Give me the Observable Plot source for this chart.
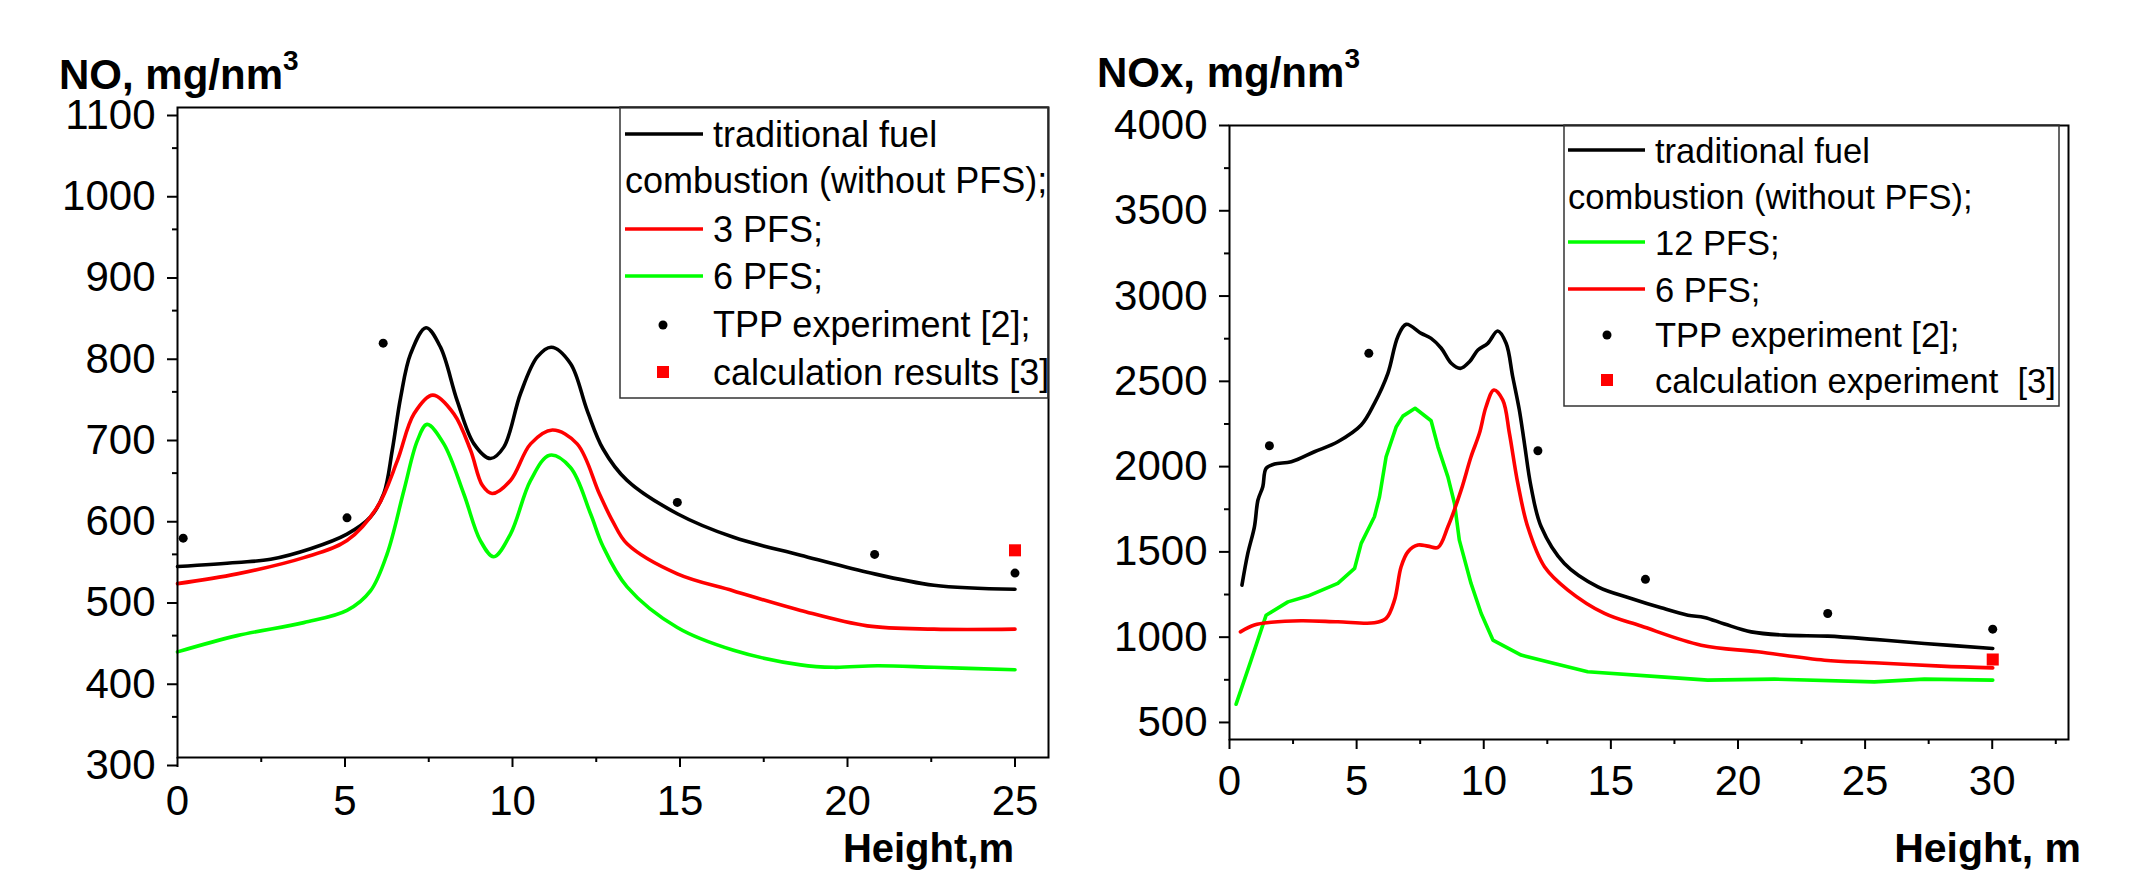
<!DOCTYPE html>
<html><head><meta charset="utf-8">
<script src="https://cdn.jsdelivr.net/npm/d3@7"></script>
<script src="https://cdn.jsdelivr.net/npm/@observablehq/plot@0.6"></script>
<style>
html,body{margin:0;padding:0;background:#fff;}
#wrap{position:relative;width:2132px;height:874px;overflow:hidden;font-family:"Liberation Sans",Arial,sans-serif;}
#wrap > svg{position:absolute;top:0;}
</style></head><body><div id="wrap"></div>
<script>
// ---------- Left chart: NO, mg/nm3 vs Height, m ----------
const noTraditional = [[0,535],[1.78,540],[2.78,544],[3.97,557],[5.06,575],[5.76,596],[6.16,625],[6.41,678],[6.66,743],[6.96,797],[7.42,829],[7.85,805],[8.35,739],[8.85,686],[9.34,668],[9.74,682],[10.24,748],[10.74,793],[11.16,805],[11.73,785],[12.23,727],[12.7,680],[13.42,641],[14.92,600],[16.6,571],[18.6,549],[20.59,528],[22.58,512],[25,507]];
const no3PFS = [[0,514],[1.78,526],[3.77,546],[5.06,567],[5.96,608],[6.56,665],[7.06,723],[7.62,746],[8.25,723],[8.75,678],[9.1,635],[9.39,625],[9.94,641],[10.54,686],[11.19,703],[11.93,686],[12.6,624],[13.0,590],[13.42,563],[14.92,526],[16.6,505],[18.6,481],[20.59,462],[22.58,458],[25,458]];
const no6PFS = [[0,430],[1.78,450],[3.77,466],[5.06,481],[5.76,505],[6.26,551],[6.76,629],[7.16,690],[7.45,710],[7.95,686],[8.55,624],[9.04,567],[9.44,547],[9.94,575],[10.54,641],[11.11,672],[11.73,657],[12.33,600],[12.7,560],[13.42,510],[14.92,460],[16.6,432],[18.6,414],[19.59,411],[20.89,413],[22.58,411],[25,408]];
const noTPP = [[0.17,570],[5.06,595],[6.14,810],[14.92,614],[20.81,550],[25,527]];
const noCalc = [[25,555]];
const noXTicks = [0,5,10,15,20,25];
const noXMinor = [2.5,7.5,12.5,17.5,22.5];
const noYTicks = [300,400,500,600,700,800,900,1000,1100];
const noYMinor = [350,450,550,650,750,850,950,1050];
const noLegend = ["traditional fuel", "combustion (without PFS);", "3 PFS;", "6 PFS;", "TPP experiment [2];", "calculation results [3]"];

// ---------- Right chart: NOx, mg/nm3 vs Height, m ----------
const noxTraditional = [[0.49,1305],[0.72,1491],[0.98,1647],[1.12,1804],[1.31,1882],[1.44,1990],[1.77,2015],[2.43,2028],[3.34,2087],[4.26,2146],[5.18,2244],[5.70,2371],[6.23,2547],[6.62,2762],[6.95,2834],[7.54,2781],[7.93,2752],[8.33,2694],[8.72,2606],[9.08,2576],[9.44,2615],[9.77,2684],[10.16,2723],[10.55,2795],[10.88,2723],[11.14,2527],[11.40,2332],[11.60,2136],[11.86,1882],[12.26,1647],[13.17,1432],[14.49,1295],[15.80,1227],[16.98,1172],[18.03,1129],[18.68,1116],[19.47,1077],[20.52,1031],[21.82,1012],[23.53,1006],[25.36,987],[27.33,963],[30.02,934]];
const nox12PFS = [[0.26,607],[0.85,865],[1.44,1129],[2.30,1207],[3.08,1241],[4.26,1315],[4.92,1403],[5.18,1550],[5.70,1706],[5.90,1823],[6.16,2058],[6.56,2234],[6.82,2296],[7.30,2342],[7.93,2269],[8.20,2116],[8.59,1940],[8.85,1784],[9.04,1569],[9.50,1315],[9.90,1139],[10.36,983],[11.47,895],[12.78,846],[14.09,797],[16.98,767],[18.81,748],[21.43,754],[25.36,738],[27.33,754],[30.02,748]];
const nox6PFS = [[0.43,1031],[0.98,1071],[1.64,1087],[2.82,1096],[4.26,1090],[5.70,1084],[6.16,1110],[6.49,1217],[6.75,1413],[7.02,1501],[7.41,1540],[7.80,1534],[8.20,1526],[8.59,1647],[9.11,1862],[9.50,2058],[9.83,2195],[10.09,2351],[10.40,2449],[10.75,2390],[11.01,2195],[11.34,1902],[11.73,1647],[12.39,1413],[13.31,1276],[14.75,1139],[16.19,1065],[18.55,953],[20.78,914],[23.40,865],[25.36,850],[27.99,830],[30.02,820]];
const noxTPP = [[1.57,2122],[5.48,2664],[12.13,2093],[16.36,1339],[23.53,1139],[30.02,1047]];
const noxCalc = [[30.02,869]];
const noxXTicks = [0,5,10,15,20,25,30];
const noxXMinor = [2.5,7.5,12.5,17.5,22.5,27.5,32.5];
const noxYTicks = [500,1000,1500,2000,2500,3000,3500,4000];
const noxYMinor = [750,1250,1750,2250,2750,3250,3750];
const noxLegend = ["traditional fuel", "combustion (without PFS);", "12 PFS;", "6 PFS;", "TPP experiment [2];", "calculation experiment  [3]"];

const FONT = '"Liberation Sans", Arial, sans-serif';
const RED = "#ff0000", GREEN = "#00ff00", BLACK = "#000000";
const wrap = document.getElementById("wrap");
const plain = d => String(d);

function xyLine(data, color, curve) {
  return Plot.line(data, {x: d => d[0], y: d => d[1], stroke: color, strokeWidth: 3.6, curve});
}

function makeChart(c) {
  const svg = Plot.plot({
    width: 1066, height: 874,
    marginLeft: c.ml, marginRight: c.mr, marginTop: c.mt, marginBottom: c.mb,
    x: {domain: c.xDomain},
    y: {domain: c.yDomain},
    style: {fontFamily: FONT, color: "#000", background: "transparent", overflow: "visible"},
    marks: [
      ...c.lines,
      Plot.dot(c.tpp, {x: d => d[0], y: d => d[1], r: 4.5, fill: BLACK}),
      Plot.dot(c.calc, {x: d => d[0], y: d => d[1], r: 6.8, symbol: "square", fill: RED}),
      Plot.frame({stroke: BLACK, strokeWidth: 2}),
      Plot.axisX(c.xTicks, {tickSize: 10, tickPadding: c.xPad, fontSize: 42, tickFormat: plain, label: null, strokeWidth: 2}),
      Plot.axisX(c.xMinor, {tickSize: 5, tickFormat: () => "", label: null, strokeWidth: 2}),
      Plot.axisY(c.yTicks, {tickSize: 10, tickPadding: 12, fontSize: 42, dy: c.yDy, tickFormat: plain, label: null, strokeWidth: 2}),
      Plot.axisY(c.yMinor, {tickSize: 5, tickFormat: () => "", label: null, strokeWidth: 2})
    ]
  });
  svg.style.left = c.left + "px";
  wrap.appendChild(svg);
}

makeChart({
  left: 0, ml: 177, mr: 18, mt: 107, mb: 117,
  xDomain: [0, 26], yDomain: [300, 1100],
  xTicks: noXTicks, xMinor: noXMinor, yTicks: noYTicks, yMinor: noYMinor,
  xPad: 18, yDy: 8,
  lines: [xyLine(noTraditional, BLACK, "catmull-rom"), xyLine(no3PFS, RED, "catmull-rom"), xyLine(no6PFS, GREEN, "catmull-rom")],
  tpp: noTPP, calc: noCalc
});
makeChart({
  left: 1066, ml: 163, mr: 64, mt: 125, mb: 135,
  xDomain: [0, 33], yDomain: [400, 4000],
  xTicks: noxXTicks, xMinor: noxXMinor, yTicks: noxYTicks, yMinor: noxYMinor,
  xPad: 16, yDy: 0,
  lines: [xyLine(noxTraditional, BLACK, "catmull-rom"), xyLine(nox12PFS, GREEN, "linear"), xyLine(nox6PFS, RED, "catmull-rom")],
  tpp: noxTPP, calc: noxCalc
});

// ---------- Overlay: axis titles and legends ----------
const NS = "http://www.w3.org/2000/svg";
const ov = document.createElementNS(NS, "svg");
ov.setAttribute("width", 2132); ov.setAttribute("height", 874);
ov.style.left = "0px";
ov.style.fontFamily = FONT;
wrap.appendChild(ov);
function el(tag, attrs, text) {
  const e = document.createElementNS(NS, tag);
  for (const k in attrs) e.setAttribute(k, attrs[k]);
  if (text != null) e.textContent = text;
  ov.appendChild(e);
  return e;
}
function title(x, y, main, sup) {
  const t = el("text", {x, y, "font-size": 42, "font-weight": "bold", fill: "#000"});
  const a = document.createElementNS(NS, "tspan"); a.textContent = main; t.appendChild(a);
  const b = document.createElementNS(NS, "tspan"); b.textContent = sup;
  b.setAttribute("font-size", 28); b.setAttribute("dy", -19); t.appendChild(b);
}
title(59, 89, "NO, mg/nm", "3");
title(1097, 87, "NOx, mg/nm", "3");
el("text", {x: 1014, y: 862, "font-size": 40, "font-weight": "bold", "text-anchor": "end"}, "Height,m");
el("text", {x: 2081, y: 862, "font-size": 41, "font-weight": "bold", "text-anchor": "end"}, "Height, m");

function legend(L, labels, colors) {
  el("rect", {x: L.x0, y: L.y0, width: L.w, height: L.h, fill: "none", stroke: "#333", "stroke-width": 1.5});
  const fs = L.fs;
  el("line", {x1: L.lx1, x2: L.lx2, y1: L.b[0] - 13, y2: L.b[0] - 13, stroke: colors[0], "stroke-width": 3.5});
  el("text", {x: L.tx, y: L.b[0], "font-size": fs}, labels[0]);
  el("text", {x: L.lx1, y: L.b[1], "font-size": fs}, labels[1]);
  el("line", {x1: L.lx1, x2: L.lx2, y1: L.b[2] - 13, y2: L.b[2] - 13, stroke: colors[1], "stroke-width": 3.5});
  el("text", {x: L.tx, y: L.b[2], "font-size": fs}, labels[2]);
  el("line", {x1: L.lx1, x2: L.lx2, y1: L.b[3] - 13, y2: L.b[3] - 13, stroke: colors[2], "stroke-width": 3.5});
  el("text", {x: L.tx, y: L.b[3], "font-size": fs}, labels[3]);
  el("circle", {cx: L.mx, cy: L.b[4] - 12, r: 4.5, fill: "#000"});
  el("text", {x: L.tx, y: L.b[4], "font-size": fs}, labels[4]);
  el("rect", {x: L.mx - 6, y: L.b[5] - 19, width: 12, height: 12, fill: RED});
  const t = el("text", {x: L.tx, y: L.b[5], "font-size": fs}, labels[5]);
  t.setAttribute("style", "white-space:pre");
}
legend({x0: 620, y0: 107, w: 428, h: 291, lx1: 625, lx2: 703, tx: 713, mx: 663, fs: 36,
        b: [147, 193, 242, 289, 337, 385]}, noLegend, [BLACK, RED, GREEN]);
legend({x0: 1564, y0: 125, w: 495, h: 281, lx1: 1568, lx2: 1645, tx: 1655, mx: 1607, fs: 34.5,
        b: [163, 209, 255, 302, 347, 393]}, noxLegend, [BLACK, GREEN, RED]);
</script></body></html>
